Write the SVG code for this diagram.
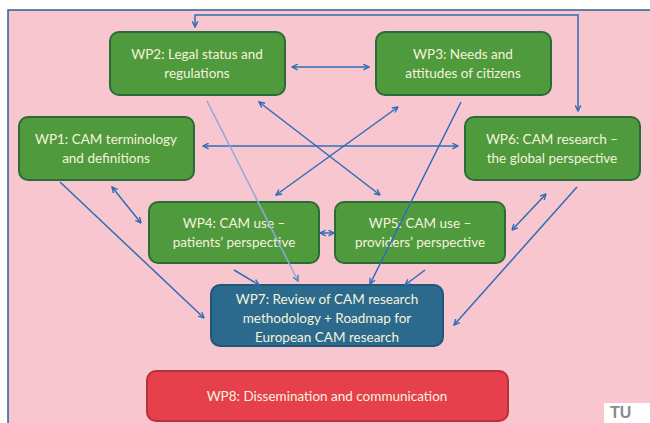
<svg xmlns="http://www.w3.org/2000/svg" width="650" height="423" viewBox="0 0 650 423">
<defs>
<marker id="ah" viewBox="0 0 10 10" refX="9" refY="5" markerWidth="7" markerHeight="7" orient="auto-start-reverse" markerUnits="userSpaceOnUse">
<path d="M1,1 L9,5 L1,9" fill="none" stroke="#2f6cb8" stroke-width="2"/>
</marker>
<marker id="ahp" viewBox="0 0 10 10" refX="9" refY="5" markerWidth="7" markerHeight="7" orient="auto-start-reverse" markerUnits="userSpaceOnUse">
<path d="M1,1 L9,5 L1,9" fill="none" stroke="#4f7fc4" stroke-width="2"/>
</marker>
</defs>
<style>
.g rect{fill:#4f9a3d;stroke:#2c6a3a;stroke-width:2}
.t{font-family:Lato,"Liberation Sans",sans-serif;font-size:13.5px;fill:#f5f3dc;text-anchor:middle}
.c{fill:none;stroke:#2f6cb8;stroke-width:1.5}
.p{fill:none;stroke:#8fa8d8;stroke-width:1.5}
</style>
<rect x="0" y="0" width="650" height="423" fill="#ffffff"/>
<rect x="8" y="10" width="650" height="430" fill="#f7c6cf" stroke="#2f5f92" stroke-width="1.5"/>

<g id="wp2" class="g">
<rect x="110" y="32" width="175" height="63" rx="9"/>
<text class="t" x="197" y="59">WP2: Legal status and</text>
<text class="t" x="197" y="78">regulations</text>
</g>
<g id="wp3" class="g">
<rect x="376" y="32" width="175" height="63" rx="9"/>
<text class="t" x="463" y="59">WP3: Needs and</text>
<text class="t" x="463" y="78">attitudes of citizens</text>
</g>
<g id="wp1" class="g">
<rect x="19" y="117" width="175" height="63" rx="9"/>
<text class="t" x="106" y="144">WP1: CAM terminology</text>
<text class="t" x="106" y="163">and definitions</text>
</g>
<g id="wp6" class="g">
<rect x="465" y="117" width="175" height="63" rx="9"/>
<text class="t" x="552" y="144">WP6: CAM research –</text>
<text class="t" x="552" y="163">the global perspective</text>
</g>
<g id="wp4" class="g">
<rect x="149" y="202" width="170" height="61" rx="9"/>
<text class="t" x="234" y="228">WP4: CAM use –</text>
<text class="t" x="234" y="247">patients’ perspective</text>
</g>
<g id="wp5" class="g">
<rect x="335" y="202" width="170" height="61" rx="9"/>
<text class="t" x="420" y="228">WP5: CAM use –</text>
<text class="t" x="420" y="247">providers’ perspective</text>
</g>
<g id="wp7">
<rect x="211" y="285" width="232" height="61" rx="9" fill="#2b6a8c" stroke="#22557a" stroke-width="2"/>
<text class="t" x="327" y="304">WP7: Review of CAM research</text>
<text class="t" x="327" y="323">methodology + Roadmap for</text>
<text class="t" x="327" y="342">European CAM research</text>
</g>
<g id="wp8">
<rect x="147" y="371" width="361" height="50" rx="9" fill="#e6404c" stroke="#b8303c" stroke-width="2"/>
<text class="t" x="327" y="401">WP8: Dissemination and communication</text>
</g>

<g id="connectors">
<path class="c" d="M195,27 V15 H578 V111" marker-start="url(#ah)" marker-end="url(#ah)"/>
<path class="c" d="M292,67 H369" marker-start="url(#ah)" marker-end="url(#ah)"/>
<path class="c" d="M203,146 H458" marker-start="url(#ah)" marker-end="url(#ah)"/>
<path class="c" d="M259,102 L380,195" marker-start="url(#ah)" marker-end="url(#ah)"/>
<path class="c" d="M398,107 L276,195" marker-start="url(#ah)" marker-end="url(#ah)"/>
<path class="p" d="M207,101 L298,281" marker-end="url(#ahp)"/>
<path class="c" d="M461,102 L370,284" marker-end="url(#ah)"/>
<path class="c" d="M60,182 L204,318" marker-end="url(#ah)"/>
<path class="c" d="M112,187 L141,223" marker-start="url(#ah)" marker-end="url(#ah)"/>
<path class="c" d="M234,270 L259,285" marker-end="url(#ah)"/>
<path class="c" d="M425,270 L405,285" marker-end="url(#ah)"/>
<path class="c" d="M320,233 H334" marker-start="url(#ah)" marker-end="url(#ah)"/>
<path class="c" d="M546,194 L512,230" marker-start="url(#ah)" marker-end="url(#ah)"/>
<path class="c" d="M577,187 L454,325" marker-end="url(#ah)"/>
</g>

<rect x="604" y="403" width="46" height="20" fill="#ffffff"/>
<text x="610" y="418" font-family="'Liberation Sans',sans-serif" font-weight="bold" font-size="16" fill="#8a8a8a">TU</text>
</svg>
